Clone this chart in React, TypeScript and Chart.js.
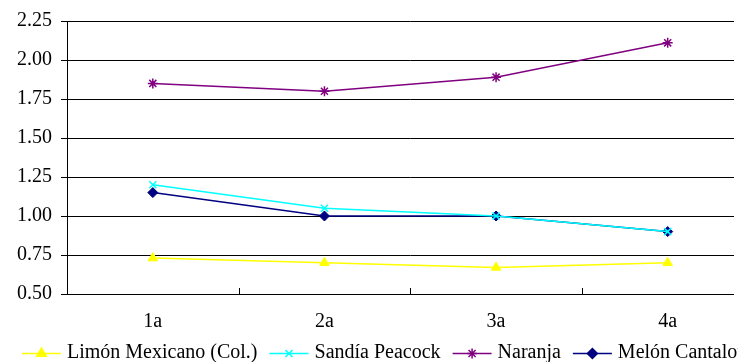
import React, { useEffect, useRef } from 'react';
import { Chart, registerables } from 'chart.js';
import { drawPoint } from 'chart.js/helpers';

Chart.register(...registerables);

const categories = ['1a', '2a', '3a', '4a'];
const limonValues = [0.73, 0.70, 0.67, 0.70];
const sandiaValues = [1.20, 1.05, 1.00, 0.90];
const naranjaValues = [1.85, 1.80, 1.89, 2.11];
const melonValues = [1.15, 1.00, 1.00, 0.90];
const seriesNames = ['Limón Mexicano (Col.)', 'Sandía Peacock', 'Naranja', 'Melón Cantaloupe'];
const yMin = 0.5;
const yMax = 2.25;
const yStep = 0.25;

const FONT = "'Liberation Serif', 'Times New Roman', serif";

const legendPlugin = {
  id: 'excelLegend',
  afterDraw(chart: any) {
    const ctx = chart.ctx;
    ctx.save();
    // crop of the plot area at the right, as in the reference
    ctx.fillStyle = '#ffffff';
    ctx.fillRect(734, 0, 40, 300);

    // inside tick marks on the category axis
    const xs = chart.scales.x;
    const area = chart.chartArea;
    const n = categories.length;
    const w = (area.right - area.left) / n;
    ctx.strokeStyle = '#000';
    ctx.lineWidth = 1;
    for (let i = 1; i < n; i++) {
      const x = Math.round(area.left + w * i) + 0.5;
      if (x > 733) continue;
      ctx.beginPath();
      ctx.moveTo(x, area.bottom);
      ctx.lineTo(x, area.bottom - 6);
      ctx.stroke();
    }

    // legend
    ctx.font = `20px ${FONT}`;
    ctx.textBaseline = 'middle';
    ctx.textAlign = 'left';
    let x = 22;
    const y = 353;
    chart.data.datasets.forEach((ds: any) => {
      ctx.strokeStyle = ds.borderColor;
      ctx.lineWidth = ds.borderWidth;
      ctx.beginPath();
      ctx.moveTo(x, y + 0.5);
      ctx.lineTo(x + 39, y + 0.5);
      ctx.stroke();
      ctx.fillStyle = ds.pointBackgroundColor;
      ctx.strokeStyle = ds.pointBorderColor;
      drawPoint(ctx, {
        pointStyle: ds.pointStyle,
        radius: ds.pointRadius,
        borderWidth: ds.pointBorderWidth,
        rotation: 0,
      }, x + 19.5, y + 0.5);
      ctx.fillStyle = '#000';
      ctx.fillText(ds.label, x + 45, y);
      x += 45 + ctx.measureText(ds.label).width + 12;
    });
    ctx.restore();
  },
};

export default function App() {
  const ref = useRef<HTMLCanvasElement | null>(null);

  useEffect(() => {
    if (!ref.current) return;
    Chart.defaults.font.family = FONT;
    Chart.defaults.color = '#000';
    const chart = new Chart(ref.current, {
      type: 'line',
      data: {
        labels: categories,
        datasets: [
          {
            label: seriesNames[0],
            data: limonValues,
            borderColor: '#FFFF00',
            borderWidth: 1.5,
            pointStyle: 'triangle',
            pointRadius: 5.5,
            pointBackgroundColor: '#FFFF00',
            pointBorderColor: '#FFFF00',
            pointBorderWidth: 1,
          },
          {
            label: seriesNames[1],
            data: sandiaValues,
            borderColor: '#00FFFF',
            borderWidth: 1.5,
            pointStyle: 'crossRot',
            pointRadius: 5,
            pointBackgroundColor: '#00FFFF',
            pointBorderColor: '#00FFFF',
            pointBorderWidth: 1.5,
          },
          {
            label: seriesNames[2],
            data: naranjaValues,
            borderColor: '#800080',
            borderWidth: 1.5,
            pointStyle: 'star',
            pointRadius: 5,
            pointBackgroundColor: '#800080',
            pointBorderColor: '#800080',
            pointBorderWidth: 1.5,
          },
          {
            label: seriesNames[3],
            data: melonValues,
            borderColor: '#000080',
            borderWidth: 1.5,
            pointStyle: 'rectRot',
            pointRadius: 5,
            pointBackgroundColor: '#000080',
            pointBorderColor: '#000080',
            pointBorderWidth: 1,
          },
        ],
      },
      options: {
        responsive: false,
        animation: false,
        events: [],
        layout: { padding: { top: 20, right: 5, bottom: 0, left: 0 } },
        plugins: {
          legend: { display: false },
          tooltip: { enabled: false },
          title: { display: false },
        },
        scales: {
          x: {
            type: 'category',
            offset: true,
            grid: { display: false, drawTicks: false },
            border: { display: true, color: '#000', width: 1 },
            ticks: { font: { size: 20, family: FONT }, color: '#000', padding: 16, maxRotation: 0 },
            afterFit: (s: any) => { s.height = 68; },
          },
          y: {
            min: yMin,
            max: yMax,
            grid: { color: '#000', lineWidth: 1, drawTicks: true, tickLength: 6, tickColor: '#000' },
            border: { display: true, color: '#000', width: 1 },
            ticks: {
              stepSize: yStep,
              font: { size: 20, family: FONT },
              color: '#000',
              padding: 9,
              callback: (v: any) => Number(v).toFixed(2),
            },
            afterFit: (s: any) => { s.width = 67; },
          },
        },
      },
      plugins: [legendPlugin],
    });
    return () => chart.destroy();
  }, []);

  return (
    <div style={{ position: 'fixed', left: 0, top: 0, width: 738, height: 362, overflow: 'hidden', background: '#fff' }}>
      <canvas ref={ref} width={760} height={362} style={{ width: 760, height: 362, display: 'block' }} />
    </div>
  );
}
